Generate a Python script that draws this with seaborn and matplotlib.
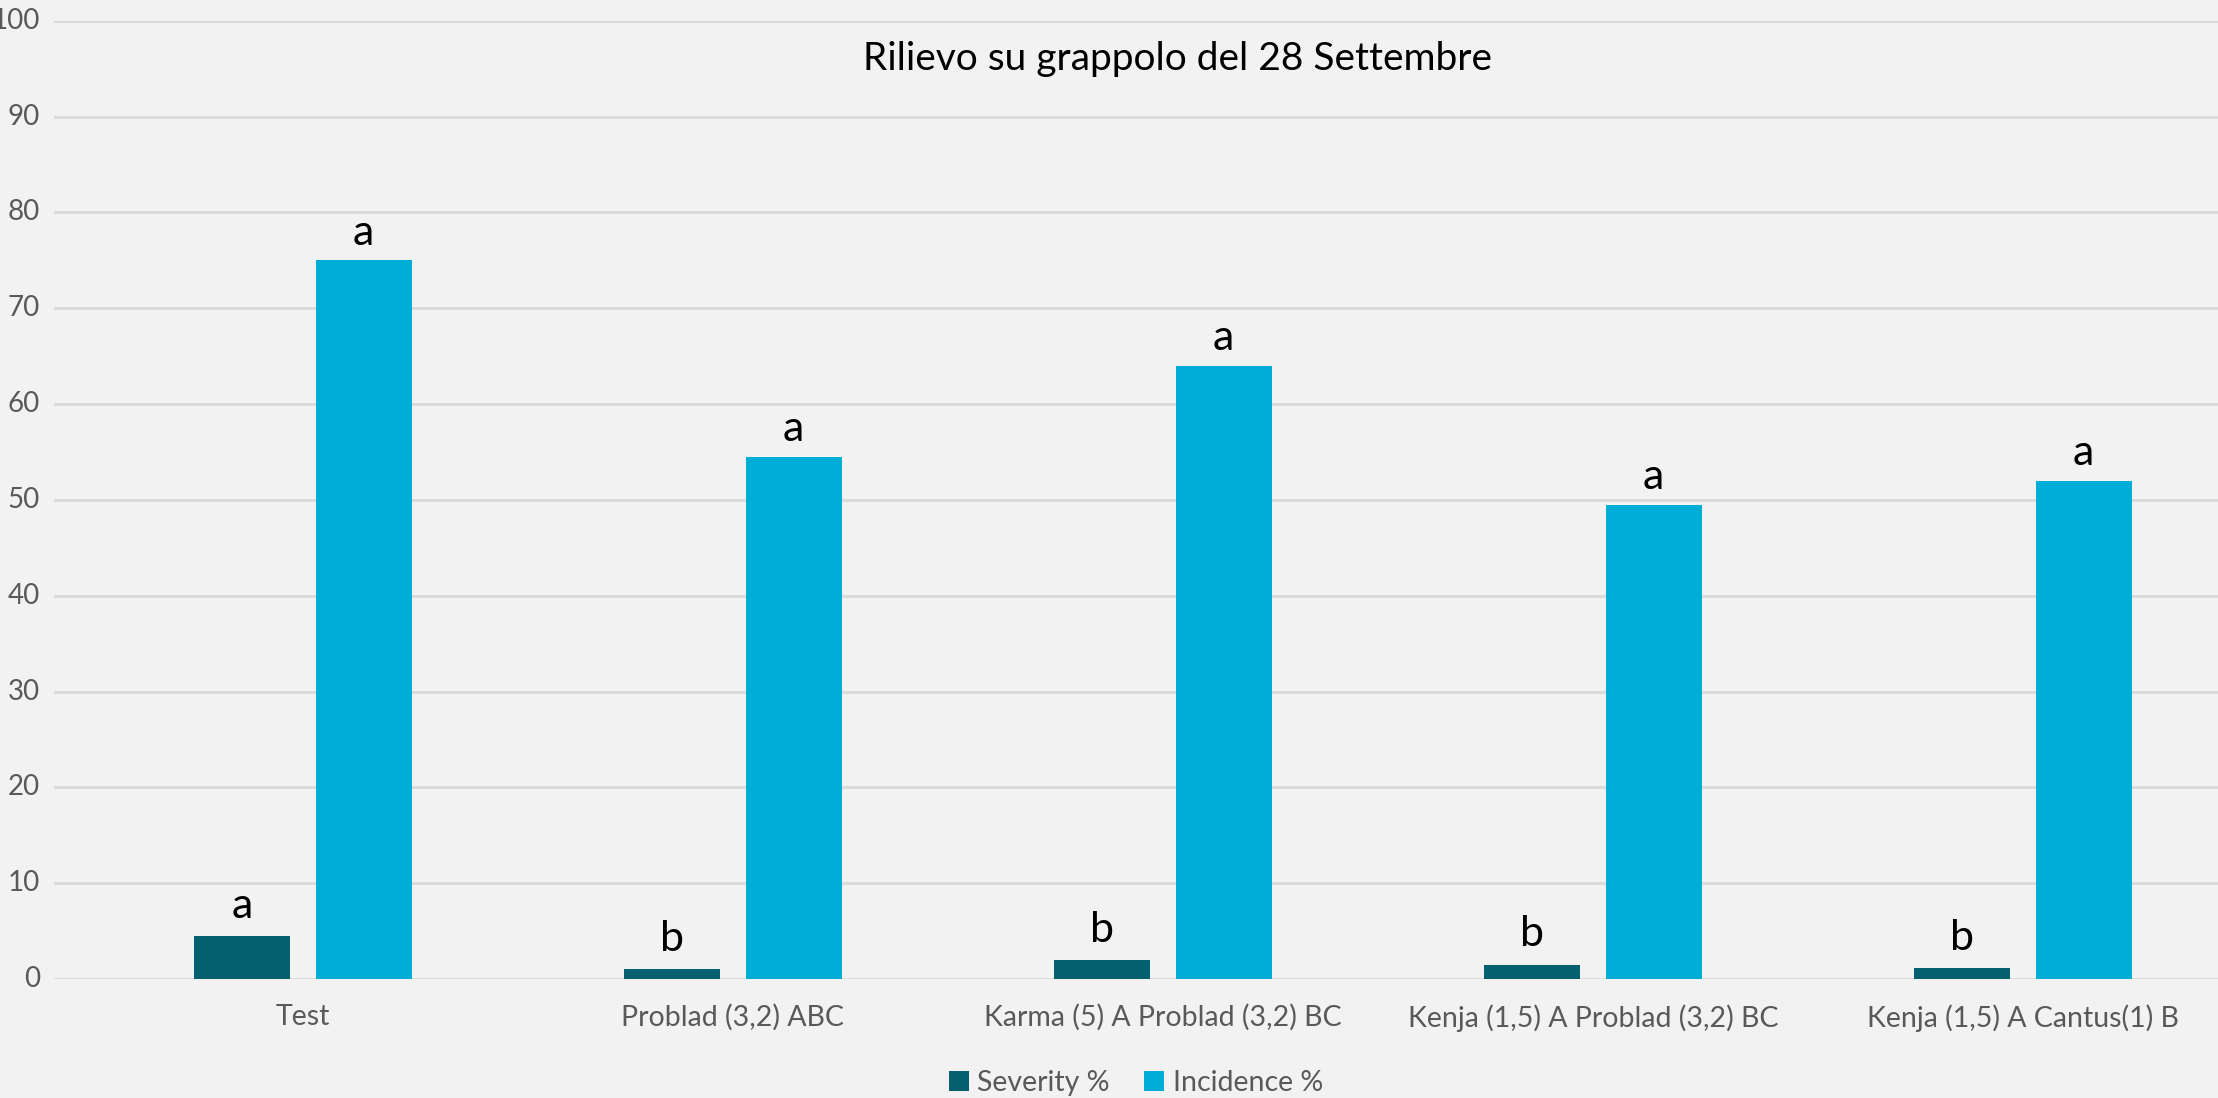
import matplotlib
matplotlib.use("Agg")
import matplotlib.pyplot as plt
import seaborn as sns
import pandas as pd

categories = ["Test", "Problad (3,2) ABC", "Karma (5) A Problad (3,2) BC",
              "Kenja (1,5) A Problad (3,2) BC", "Kenja (1,5) A Cantus(1) B"]
severity = [4.5, 1.0, 2.0, 1.5, 1.1]
incidence = [75.0, 54.5, 64.0, 49.5, 52.0]
severity_letters = ["a", "b", "b", "b", "b"]
incidence_letters = ["a", "a", "a", "a", "a"]
series_names = ["Severity %", "Incidence %"]
yticks = list(range(0, 101, 10))
title = "Rilievo su grappolo del 28 Settembre"

df = pd.DataFrame({
    "cat": categories * 2,
    "serie": [series_names[0]] * len(categories) + [series_names[1]] * len(categories),
    "val": severity + incidence,
})

sns.set_theme(style="white")
plt.rcParams["font.family"] = ["Lato", "DejaVu Sans"]

BG = "#F2F2F2"
fig = plt.figure(figsize=(22.18, 10.98), dpi=100, facecolor=BG)
ax = fig.add_axes([0.0243, 0.1084, 0.9757, 0.8726])
ax.set_facecolor(BG)

sns.barplot(data=df, x="cat", y="val", hue="serie", order=categories,
            hue_order=series_names, palette=["#02606F", "#00ADD6"],
            width=0.5657, gap=0.21, ax=ax, saturation=1, linewidth=0,
            legend=True)

ax.set_ylim(0, 100)
ax.set_xlim(-0.579, 4.454)
ax.set_yticks(yticks)
ax.yaxis.grid(True, color="#D9D9D9", linewidth=2)
ax.set_axisbelow(True)
for s in ax.spines.values():
    s.set_visible(False)
ax.set_xlabel("")
ax.set_ylabel("")
ax.tick_params(axis="y", labelsize=20, colors="#595959", length=0, pad=10)
ax.tick_params(axis="x", labelsize=20.5, colors="#595959", length=0, pad=18)
for lbl in ax.get_yticklabels():
    lbl.set_horizontalalignment("right")
    lbl.set_verticalalignment("center")

ax.bar_label(ax.containers[0], labels=severity_letters, fontsize=31, padding=8, color="black")
ax.bar_label(ax.containers[1], labels=incidence_letters, fontsize=31, padding=6, color="black")

fig.text(0.5307, 0.946, title, ha="center", va="center", fontsize=28, color="black")

leg = ax.legend(loc="center", bbox_to_anchor=(0.5, -0.1085), ncol=2, frameon=False,
                fontsize=20.5, handlelength=0.7, handleheight=0.7, handletextpad=0.3,
                columnspacing=1.2)
for t in leg.get_texts():
    t.set_color("#595959")

fig.savefig("out.png", dpi=100, facecolor=BG)
